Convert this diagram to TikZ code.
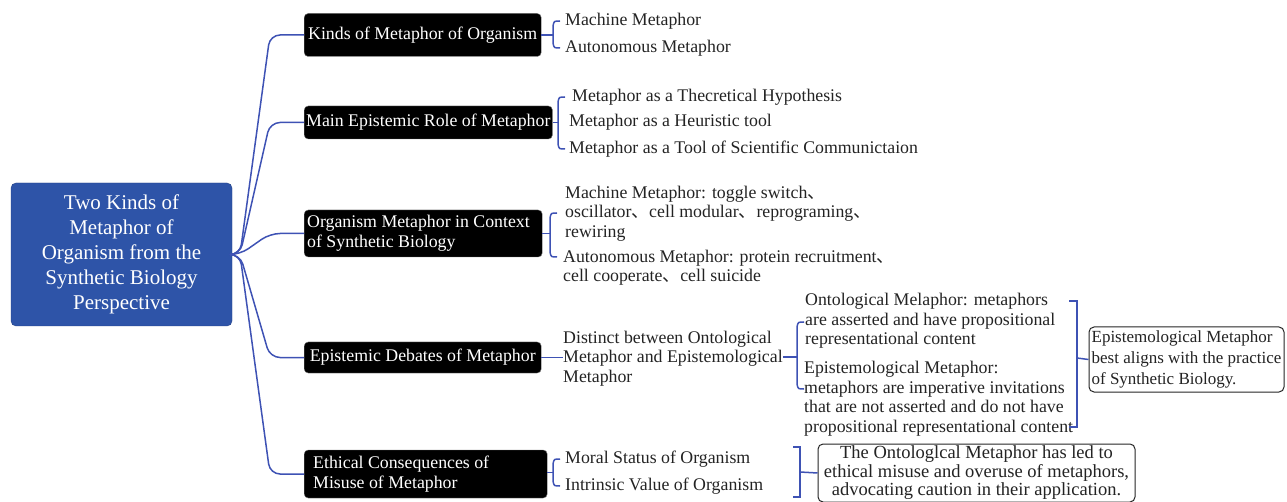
\documentclass[tikz,border=0pt]{standalone}
\usepackage{fontspec}
\setmainfont{Liberation Serif}
\newfontfamily\cjkfont{Noto Sans CJK SC}
\newcommand\dun{{\cjkfont 、}}
\definecolor{linecol}{RGB}{62,82,180}
\definecolor{rootcol}{RGB}{46,84,168}
\definecolor{txtcol}{RGB}{35,35,35}
\newcommand\mybrace[4]{% x, top, bottom, mid
  \draw[line] (#1+7,#2) .. controls (#1+1,#2) .. (#1,#2+5) -- (#1,#3-5) .. controls (#1+1,#3) .. (#1+7,#3);}
\begin{document}
\begin{tikzpicture}[x=1pt,y=-1pt,
  line/.style={draw=linecol, line width=1.5pt},
  rootbox/.style={fill=rootcol, draw=rootcol!80!black, rounded corners=5pt, text=white, align=center,
    font=\fontsize{21}{25}\selectfont, minimum width=221pt, minimum height=143pt, inner sep=0pt},
  blk/.style={fill=black, draw=black!55, rounded corners=4pt, text=white, align=left,
    font=\fontsize{17.8}{20}\selectfont, inner sep=2pt, anchor=west},
  lbl/.style={inner sep=0pt, anchor=west, align=left, text=txtcol, font=\fontsize{17.8}{19.5}\selectfont},
  wbox/.style={draw=black!85, fill=white, rounded corners=5pt, line width=1pt, text=txtcol, inner sep=2pt}]
\useasboundingbox (0,0) rectangle (1287,502);

\node[rootbox] (root) at (121.5,254.5) {Two Kinds of\\Metaphor of\\Organism from the\\Synthetic Biology\\Perspective};

\node[blk, minimum width=237pt, minimum height=43pt] (b1) at (304,35) {Kinds of Metaphor of Organism};
\node[blk, minimum width=244pt, minimum height=33pt] (b2) at (304,122.5) {Main Epistemic Role of Metaphor};
\node[blk, text width=232pt, align=flush left, inner xsep=3pt, minimum height=47pt] (b3) at (304,233.5) {Organism Metaphor in Context\\of Synthetic Biology};
\node[blk, minimum width=237pt, minimum height=31pt] (b4) at (304,357.5) {Epistemic Debates of Metaphor};
\node[blk, text width=237pt, align=flush left, inner xsep=3pt, minimum height=48pt] (b5) at (304,474) {\hspace*{6pt}Ethical Consequences of\\\hspace*{6pt}Misuse of Metaphor};

\foreach \b in {b1,b2,b3,b4,b5}
  \draw[line, rounded corners=10pt] (root.east) -- (240,254.5) -- (270,0 |- \b.west) -- (\b.west);

% branch 1
\node[lbl] (t1a) at (565,21) {Machine Metaphor};
\node[lbl] (t1b) at (565,48) {Autonomous Metaphor};
\mybrace{553}{21}{48}{35}
\coordinate (m1) at (553,35);
\draw[line] (b1.east) -- (m1);

% branch 2
\node[lbl] (t2a) at (572,97) {Metaphor as a Thecretical Hypothesis};
\node[lbl] (t2b) at (569,122.5) {Metaphor as a Heuristic tool};
\node[lbl] (t2c) at (569,149) {Metaphor as a Tool of Scientific Communictaion};
\mybrace{558}{97}{149}{122.5}
\coordinate (m2) at (558,122.5);
\draw[line] (b2.east) -- (m2);

% branch 3
\node[lbl] (t3a) at (565,213.5) {Machine Metaphor: toggle switch\dun\\oscillator\dun cell modular\dun reprograming\dun\\rewiring};
\node[lbl] (t3b) at (563,267.5) {Autonomous Metaphor: protein recruitment\dun\\cell cooperate\dun cell suicide};
\mybrace{550}{213}{257}{233.5}
\coordinate (m3) at (550,233.5);
\draw[line] (b3.east) -- (m3);

% branch 4
\node[lbl] (t4) at (563,358.5) {Distinct between Ontological\\Metaphor and Epistemological\\Metaphor};
\draw[line] (b4.east) -- (t4.west |- b4.east);
\node[lbl] (t5a) at (805,321) {Ontological Melaphor: metaphors\\are asserted and have propositional\\representational content};
\node[lbl] (t5b) at (804,398.5) {Epistemological Metaphor:\\metaphors are imperative invitations\\that are not asserted and do not have\\propositional representational content};
\mybrace{797}{322}{389}{357}
\coordinate (m4) at (797,357);
\draw[line] (t4.east |- m4) -- (m4);
\draw[line] (1069,301) -- (1077,301) -- (1077,427) -- (1069,427);
\coordinate (r4) at (1077,358);
\node[wbox, align=left, font=\fontsize{17}{21}\selectfont, minimum width=195pt, minimum height=65pt] (eb) at (1186.5,359.5) {Epistemological Metaphor\\best aligns with the practice\\of Synthetic Biology.};
\draw[line] (r4) -- (eb.west);

% branch 5
\node[lbl] (t6a) at (565,459) {Moral Status of Organism};
\node[lbl] (t6b) at (565,486) {Intrinsic Value of Organism};
\mybrace{553}{459}{486}{472.5}
\coordinate (m5) at (553,472.5);
\draw[line] (b5.east |- m5) -- (m5);
\draw[line] (793,447) -- (800,447) -- (800,497) -- (793,497);
\coordinate (r5) at (800,472);
\node[wbox, align=center, font=\fontsize{18.5}{18.5}\selectfont, minimum width=317pt, minimum height=58pt] (ob) at (976.5,473) {The Ontologlcal Metaphor has led to\\ethical misuse and overuse of metaphors,\\advocating caution in their application.};
\draw[line] (r5) -- (ob.west);
\end{tikzpicture}
\end{document}
